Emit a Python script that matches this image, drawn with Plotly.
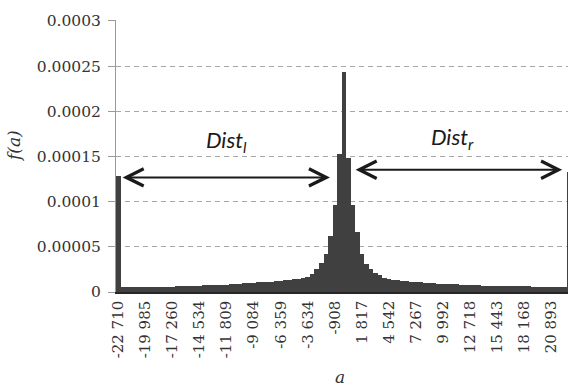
import plotly.graph_objects as go

# ---- data ----
bin_index = list(range(101))          # histogram bins, left to right
freq = [
    128e-6,
    5.0e-6, 5.0e-6, 5.1e-6, 5.1e-6, 5.2e-6, 5.2e-6, 5.3e-6, 5.3e-6, 5.4e-6,
    5.8e-6, 5.9e-6, 6.0e-6, 6.1e-6, 6.2e-6, 6.3e-6, 6.4e-6, 6.5e-6, 6.6e-6,
    7.2e-6, 7.4e-6, 7.6e-6, 7.8e-6, 8.0e-6, 8.2e-6,
    8.8e-6, 9.0e-6, 9.3e-6, 9.6e-6, 9.9e-6,
    10.3e-6, 10.6e-6, 10.9e-6, 11.2e-6,
    11.6e-6, 12.0e-6, 12.4e-6, 12.8e-6,
    13.3e-6, 13.9e-6, 14.6e-6, 15.4e-6, 16.5e-6,
    19.6e-6, 25.2e-6, 32.6e-6, 42.6e-6, 62e-6, 96.7e-6, 153e-6,
    243.7e-6,
    148e-6, 96e-6, 66e-6, 42e-6, 31e-6, 25e-6, 21e-6, 18.4e-6, 16e-6, 14.7e-6,
    13.8e-6, 13.0e-6, 12.4e-6, 11.8e-6, 11.3e-6, 10.9e-6, 10.6e-6, 10.3e-6, 10.0e-6, 9.7e-6,
    9.4e-6, 9.2e-6, 8.9e-6, 8.7e-6, 8.4e-6, 8.1e-6, 7.9e-6, 7.7e-6, 7.5e-6, 7.3e-6,
    7.1e-6, 7.0e-6, 6.9e-6, 6.8e-6, 6.7e-6, 6.6e-6, 6.5e-6, 6.4e-6, 6.3e-6, 6.2e-6,
    6.1e-6, 6.0e-6, 5.9e-6, 5.9e-6, 5.8e-6, 5.8e-6, 5.7e-6, 5.7e-6, 5.6e-6,
    133e-6,
]
x_tick_pos = list(range(0, 97, 6))
x_tick_labels = ["-22 710", "-19 985", "-17 260", "-14 534", "-11 809", "-9 084",
                 "-6 359", "-3 634", "-908", "1 817", "4 542", "7 267", "9 992",
                 "12 718", "15 443", "18 168", "20 893"]
y_tick_vals = [0, 0.00005, 0.0001, 0.00015, 0.0002, 0.00025, 0.0003]
y_tick_labels = ["0", "0.00005", "0.0001", "0.00015", "0.0002", "0.00025", "0.0003"]

W, H = 568, 388
L, R, T, B = 116, 0, 20, 96
PW, PH = W - L - R, H - T - B

fig = go.Figure()
fig.add_trace(go.Bar(x=bin_index, y=freq, marker=dict(color="#404040", line=dict(width=0)),
                     hoverinfo="x+y"))

fig.update_layout(
    width=W, height=H,
    margin=dict(l=L, r=R, t=T, b=B, pad=0),
    paper_bgcolor="white", plot_bgcolor="white",
    bargap=0, showlegend=False,
    xaxis=dict(range=[-0.5, 99.7], tickmode="array", tickvals=x_tick_pos,
               ticktext=x_tick_labels, tickangle=-90,
               tickfont=dict(family="DejaVu Serif", size=15, color="#333333"),
               showgrid=False, zeroline=False, showline=True, linecolor="#262626",
               linewidth=1.5, ticks="", ticklen=0, automargin=False,
               ticklabelstandoff=1),
    yaxis=dict(range=[0, 0.000301], tickmode="array", tickvals=y_tick_vals,
               ticktext=y_tick_labels,
               tickfont=dict(family="DejaVu Serif", size=15.5, color="#333333"),
               showgrid=True, gridcolor="#a6a6a6", griddash="5px,4px", gridwidth=1,
               zeroline=False, showline=True, linecolor="#999999", linewidth=1,
               ticks="outside", ticklen=7, tickcolor="#999999", automargin=False,
               ticklabelstandoff=4),
)

arrow_common = dict(xref="x", yref="y", axref="x", ayref="y", showarrow=True,
                    arrowhead=5, startarrowhead=5, arrowside="end+start",
                    arrowsize=1.7, startarrowsize=1.7, arrowwidth=2,
                    arrowcolor="#1a1a1a", text=" ")
fig.add_annotation(x=46.94, y=1.268e-4, ax=0.3, ay=1.268e-4, **arrow_common)
fig.add_annotation(x=98.4, y=1.353e-4, ax=51.95, ay=1.353e-4, **arrow_common)

dist_font = dict(family="Lato", size=22, color="#1a1a1a", style="italic")
fig.add_annotation(x=24.0, y=1.67e-4, xref="x", yref="y", showarrow=False,
                   text="Dist<sub>l</sub>", font=dist_font)
fig.add_annotation(x=74.15, y=1.70e-4, xref="x", yref="y", showarrow=False,
                   text="Dist<sub>r</sub>", font=dist_font)

title_font = dict(family="DejaVu Serif", size=17, color="#333333", style="italic")
fig.add_annotation(x=(340 - L) / PW, y=(H - B - 377) / PH, xref="paper", yref="paper",
                   xanchor="center", yanchor="middle",
                   showarrow=False, text="a", font=title_font)
fig.add_annotation(x=(14 - L) / PW, y=(H - B - 146) / PH, xref="paper", yref="paper",
                   xanchor="center", yanchor="middle",
                   showarrow=False, text="f(a)", textangle=-90, font=title_font)

fig.write_html("out.html", config={"displayModeBar": False},
               post_script="document.body.style.margin='0';document.body.style.padding='0';")
